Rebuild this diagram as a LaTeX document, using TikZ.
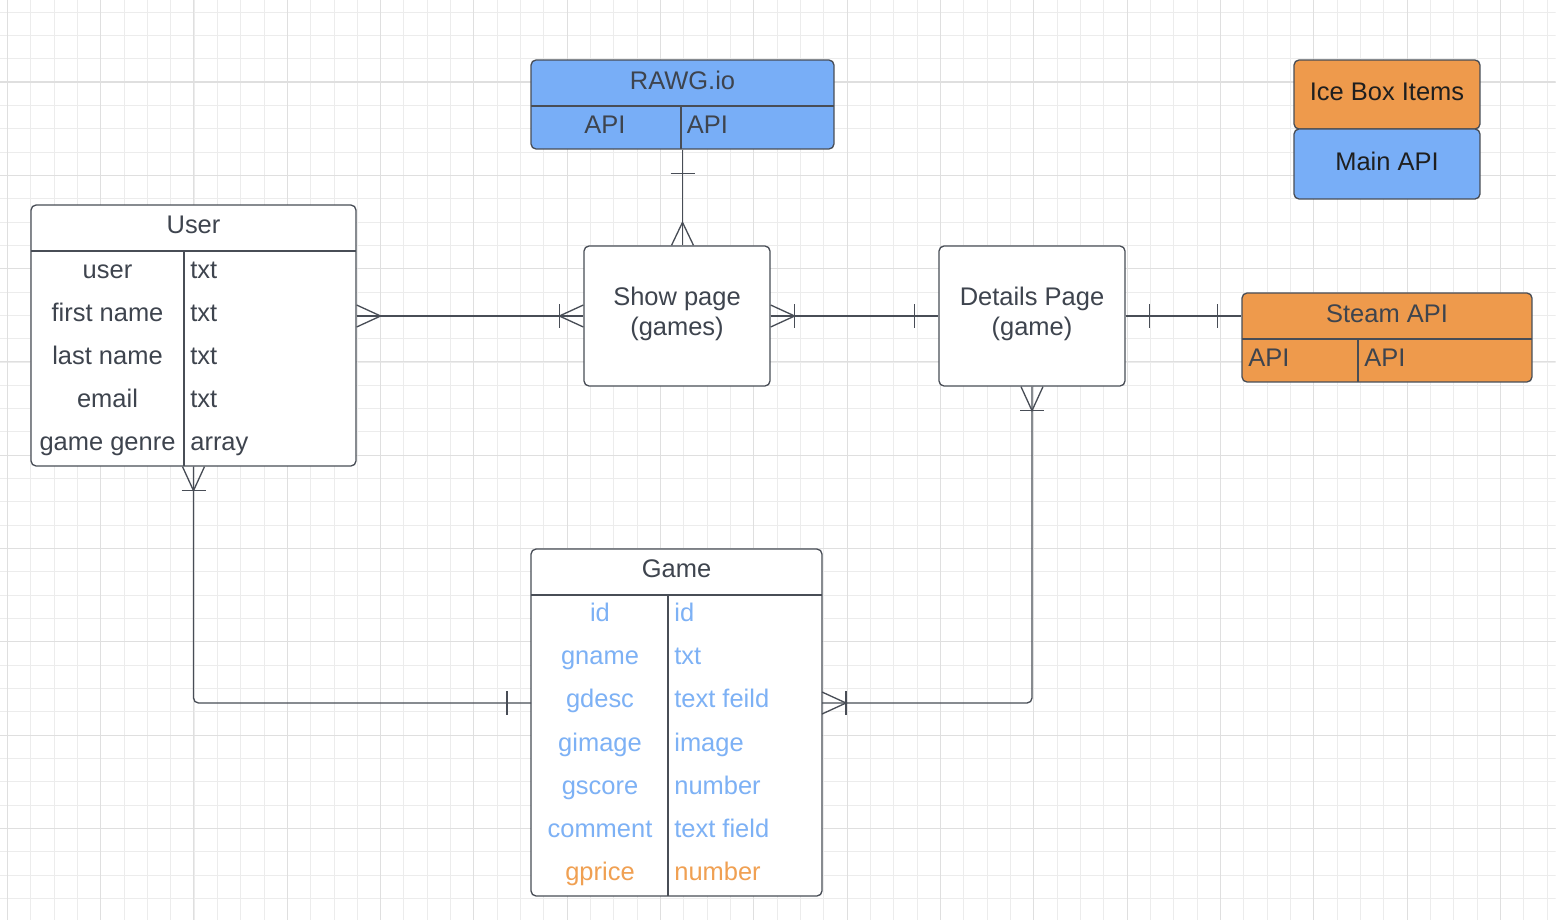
\documentclass[tikz,border=0pt]{standalone}
\usepackage{fontspec}
\setmainfont{Liberation Sans}
\usetikzlibrary{calc}

\definecolor{inkgray}{RGB}{62,68,78}
\definecolor{linegray}{RGB}{72,77,86}
\definecolor{apiblue}{RGB}{120,174,247}
\definecolor{apiorange}{RGB}{238,154,76}
\definecolor{fieldblue}{RGB}{125,177,245}
\definecolor{fieldorange}{RGB}{240,160,82}
\definecolor{gridminor}{RGB}{236,236,236}
\definecolor{gridmajor}{RGB}{223,223,223}

\tikzset{
  entity/.style={draw=linegray, line width=0.75pt, rounded corners=0.1cm, fill=white, inner sep=0pt, text=inkgray, align=center},
  keybox/.style={entity, minimum width=3.72cm, text=black!88, text depth=3.4pt},
  conn/.style={draw=linegray, line width=0.75pt},
  fieldname/.style={inner sep=0pt, anchor=base, text=inkgray},
  fieldtype/.style={fieldname, anchor=base west},
}

\begin{document}
\begin{tikzpicture}[x=0.02cm, y=-0.02cm, font=\fontsize{14.5}{17}\selectfont]
    \useasboundingbox (0,0) rectangle (1556,920);
    \fill[white] (0,0) rectangle (1556,920);

    % background grid
    \begin{scope}[x=1cm, y=1cm]
        \clip (0,0) rectangle (31.12,-18.4);
        \draw[gridminor, line width=0.5pt, step=0.46667cm, shift={(0.14667,-0.24)}] (-1,-20) grid (32,1);
        \draw[gridmajor, line width=0.6pt, step=1.86667cm, shift={(0.14667,-1.64)}] (-2,-21) grid (33,2);
    \end{scope}

    % RAWG.io
    \node[entity, fill=apiblue, minimum width=6.06cm, minimum height=1.78cm] (rawg) at (682.5,104.5) {};
    \draw[conn] (531,106) -- (834,106);
    \draw[conn] (681,106) -- (681,149);
    \node[fieldname] (rawgtitle) at (682.5,89) {RAWG.io};
    \node[fieldname] (rawgapi1) at (605,133) {API};
    \node[fieldtype] (rawgapi2) at (686.5,133) {API};

    % User
    \node[entity, minimum width=6.5cm, minimum height=5.22cm] (user) at (193.5,335.5) {};
    \draw[conn] (31,251) -- (356,251);
    \draw[conn] (184,251) -- (184,466);
    \node[fieldname] (usertitle) at (193.5,233.5) {User};
    \node[fieldname] (user1) at (107.5,278) {user};
    \node[fieldname] (user2) at (107.5,321) {first name};
    \node[fieldname] (user3) at (107.5,364) {last name};
    \node[fieldname] (user4) at (107.5,407) {email};
    \node[fieldname] (user5) at (107.5,450) {game genre};
    \node[fieldtype] (usertype1) at (190,278) {txt};
    \node[fieldtype] (usertype2) at (190,321) {txt};
    \node[fieldtype] (usertype3) at (190,364) {txt};
    \node[fieldtype] (usertype4) at (190,407) {txt};
    \node[fieldtype] (usertype5) at (190,450) {array};

    % pages
    \node[entity, minimum width=3.72cm, minimum height=2.8cm, text depth=5.3pt] (show) at (677,316) {Show page\\(games)};
    \node[entity, minimum width=3.72cm, minimum height=2.8cm, text depth=5.3pt] (details) at (1032,316) {Details Page\\(game)};

    % Steam API
    \node[entity, fill=apiorange, minimum width=5.8cm, minimum height=1.78cm] (steam) at (1387,337.5) {};
    \draw[conn] (1242,339) -- (1532,339);
    \draw[conn] (1358,339) -- (1358,382);
    \node[fieldname] (steamtitle) at (1387,322) {Steam API};
    \node[fieldtype] (steamapi1) at (1248,366) {API};
    \node[fieldtype] (steamapi2) at (1364,366) {API};

    % key
    \node[keybox, fill=apiorange, minimum height=1.38cm] (icebox) at (1387,94.5) {Ice Box Items};
    \node[keybox, fill=apiblue, minimum height=1.4cm] (mainapi) at (1387,164) {Main API};

    % Game
    \node[entity, minimum width=5.82cm, minimum height=6.94cm] (game) at (676.5,722.5) {};
    \draw[conn] (531,595) -- (822,595);
    \draw[conn] (668,595) -- (668,896);
    \node[fieldname] (gametitle) at (676.5,577) {Game};
    \node[fieldname, text=fieldblue] (game1) at (600,621.5) {id};
    \node[fieldname, text=fieldblue] (game2) at (600,664.7) {gname};
    \node[fieldname, text=fieldblue] (game3) at (600,707.9) {gdesc};
    \node[fieldname, text=fieldblue] (game4) at (600,751.1) {gimage};
    \node[fieldname, text=fieldblue] (game5) at (600,794.3) {gscore};
    \node[fieldname, text=fieldblue] (game6) at (600,837.5) {comment};
    \node[fieldname, text=fieldorange] (game7) at (600,880.7) {gprice};
    \node[fieldtype, text=fieldblue] (gametype1) at (674,621.5) {id};
    \node[fieldtype, text=fieldblue] (gametype2) at (674,664.7) {txt};
    \node[fieldtype, text=fieldblue] (gametype3) at (674,707.9) {text feild};
    \node[fieldtype, text=fieldblue] (gametype4) at (674,751.1) {image};
    \node[fieldtype, text=fieldblue] (gametype5) at (674,794.3) {number};
    \node[fieldtype, text=fieldblue] (gametype6) at (674,837.5) {text field};
    \node[fieldtype, text=fieldorange] (gametype7) at (674,880.7) {number};

    \coordinate (rawgfoot) at (rawg.south |- show.north);
    \coordinate (usereast) at (show.west -| user.east);
    \coordinate (steamwest) at (details.east -| steam.west);
    \coordinate (gamewest) at (531,703);
    \coordinate (gameeast) at (822,703);

    % RAWG.io -- Show page
    \draw[conn] (rawg.south) -- (rawgfoot);
    \draw[conn] ($(rawg.south)+(-12,24)$) -- ++(24,0);
    \draw[conn] ($(rawgfoot)+(-11,0)$) -- ($(rawgfoot)+(0,-23)$) -- ($(rawgfoot)+(11,0)$);

    % User -- Show page
    \draw[conn] (usereast) -- (show.west);
    \draw[conn] ($(usereast)+(0,-11)$) -- ($(usereast)+(24,0)$) -- ($(usereast)+(0,11)$);
    \draw[conn] ($(show.west)+(0,-11)$) -- ($(show.west)+(-24,0)$) -- ($(show.west)+(0,11)$);
    \draw[conn] ($(show.west)+(-24,-12)$) -- ++(0,24);

    % Show page -- Details Page
    \draw[conn] (show.east) -- (details.west);
    \draw[conn] ($(show.east)+(0,-11)$) -- ($(show.east)+(24,0)$) -- ($(show.east)+(0,11)$);
    \draw[conn] ($(show.east)+(24,-12)$) -- ++(0,24);
    \draw[conn] ($(details.west)+(-24,-12)$) -- ++(0,24);

    % Details Page -- Steam API
    \draw[conn] (details.east) -- (steamwest);
    \draw[conn] ($(details.east)+(24,-12)$) -- ++(0,24);
    \draw[conn] ($(steamwest)+(-24,-12)$) -- ++(0,24);

    % Details Page -- Game
    \draw[conn, rounded corners=0.1cm] (details.south) |- (gameeast);
    \draw[conn] ($(details.south)+(-11,0)$) -- ($(details.south)+(0,24)$) -- ($(details.south)+(11,0)$);
    \draw[conn] ($(details.south)+(-12,24)$) -- ++(24,0);
    \draw[conn] ($(gameeast)+(0,-11)$) -- ($(gameeast)+(24,0)$) -- ($(gameeast)+(0,11)$);
    \draw[conn] ($(gameeast)+(24,-12)$) -- ++(0,24);

    % User -- Game
    \draw[conn, rounded corners=0.1cm] (user.south) |- (gamewest);
    \draw[conn] ($(user.south)+(-11,0)$) -- ($(user.south)+(0,24)$) -- ($(user.south)+(11,0)$);
    \draw[conn] ($(user.south)+(-12,24)$) -- ++(24,0);
    \draw[conn] ($(gamewest)+(-24,-12)$) -- ++(0,24);
\end{tikzpicture}
\end{document}
